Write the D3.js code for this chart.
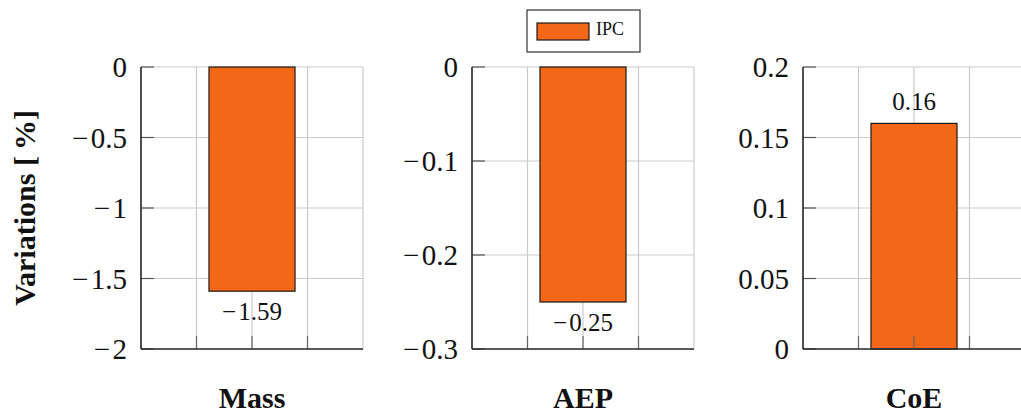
<!DOCTYPE html>
<html>
<head>
<meta charset="utf-8">
<script src="https://cdn.jsdelivr.net/npm/d3@7"></script>
<style>
  html, body { margin: 0; padding: 0; background: #fff; }
  svg { display: block; }
</style>
</head>
<body>
<svg id="chart" width="1021" height="414"></svg>
<script>
// Relative variations of each quantity for the IPC configuration
const categories = ["Mass", "AEP", "CoE"];
const seriesName = "IPC";
const ipcValues = [-1.59, -0.25, 0.16];

// Per-panel y ranges and tick labels
const yDomains = [[-2, 0], [-0.3, 0], [0, 0.2]];
const yTicks = [
  [-2, -1.5, -1, -0.5, 0],
  [-0.3, -0.2, -0.1, 0],
  [0, 0.05, 0.1, 0.15, 0.2]
];

const yTitle = "Variations [\u2009%]";

const barColor = "#f46717";
const gridColor = "#cbcbcb";
const axisColor = "#2a2a2a";

const svg = d3.select("#chart");

const panelLeft0 = 141, panelStep = 331, panelW = 222;
const panelTop = 67, panelH = 282;
const tickLen = 13;
const barWidthUnits = 0.775; // bar width in x-units (x spans -1..1)

const tickFmt = d3.format("~g");
const valFmt = d3.format(".2f");

// serif text styling applied on each text element
function serifText(sel, size, bold) {
  sel.style("font-family", "\"Liberation Serif\"")
    .style("font-size", size + "px")
    .style("font-weight", bold ? "bold" : "normal")
    .attr("fill", "#111");
}

// writes a number, giving a leading minus sign a little more room
function numberText(sel, str) {
  sel.each(function (d) {
    const s = typeof str === "function" ? str(d) : str;
    const t = d3.select(this);
    if (s.startsWith("\u2212")) {
      t.append("tspan").text("\u2212");
      t.append("tspan").attr("dx", "0.08em").text(s.slice(1));
    } else {
      t.text(s);
    }
  });
}

categories.forEach((cat, i) => {
  const g = svg.append("g")
    .attr("transform", `translate(${panelLeft0 + i * panelStep},${panelTop})`);

  const x = d3.scaleLinear().domain([-1, 1]).range([0, panelW]);
  const y = d3.scaleLinear().domain(yDomains[i]).range([panelH, 0]);
  const xGrid = [-1, -0.5, 0, 0.5, 1];

  // grid
  g.append("g").selectAll("line").data(yTicks[i]).join("line")
    .attr("x1", 0).attr("x2", panelW)
    .attr("y1", d => y(d)).attr("y2", d => y(d))
    .attr("stroke", gridColor).attr("stroke-width", 1.2);
  g.append("g").selectAll("line").data(xGrid).join("line")
    .attr("x1", d => x(d)).attr("x2", d => x(d))
    .attr("y1", 0).attr("y2", panelH)
    .attr("stroke", gridColor).attr("stroke-width", 1.2);

  // bar
  const v = ipcValues[i];
  const half = barWidthUnits / 2;
  g.append("rect")
    .attr("x", x(-half))
    .attr("width", x(half) - x(-half))
    .attr("y", Math.min(y(v), y(0)))
    .attr("height", Math.abs(y(v) - y(0)))
    .attr("fill", barColor)
    .attr("stroke", "#1a1a1a")
    .attr("stroke-width", 1.2);

  // value label
  g.append("text")
    .attr("x", x(0))
    .attr("y", v < 0 ? y(v) + 29 : y(v) - 13)
    .attr("text-anchor", "middle")
    .call(serifText, 25, false)
    .call(numberText, valFmt(v));

  // tick marks (left and bottom, pointing inward)
  g.append("g").selectAll("line").data(yTicks[i]).join("line")
    .attr("x1", 0).attr("x2", tickLen)
    .attr("y1", d => y(d)).attr("y2", d => y(d))
    .attr("stroke", "#555").attr("stroke-width", 1.2);
  g.append("g").selectAll("line").data([-0.5, 0, 0.5]).join("line")
    .attr("x1", d => x(d)).attr("x2", d => x(d))
    .attr("y1", panelH).attr("y2", panelH - tickLen)
    .attr("stroke", "#666").attr("stroke-width", 1.2);

  // axis lines
  g.append("line").attr("x1", 0).attr("x2", 0).attr("y1", 0).attr("y2", panelH)
    .attr("stroke", axisColor).attr("stroke-width", 1.6);
  g.append("line").attr("x1", 0).attr("x2", panelW).attr("y1", panelH).attr("y2", panelH)
    .attr("stroke", axisColor).attr("stroke-width", 1.6);

  // y tick labels
  g.append("g").selectAll("text").data(yTicks[i]).join("text")
    .attr("x", -14)
    .attr("y", d => y(d))
    .attr("dy", "0.35em")
    .attr("text-anchor", "end")
    .call(serifText, 29, false)
    .call(numberText, d => tickFmt(d));

  // category label
  g.append("text")
    .attr("x", x(0))
    .attr("y", 408 - panelTop)
    .attr("text-anchor", "middle")
    .call(serifText, 30, true)
    .text(cat);
});

// y axis title
svg.append("text")
  .attr("transform", `translate(35,${panelTop + panelH / 2}) rotate(-90)`)
  .attr("text-anchor", "middle")
  .call(serifText, 30, true)
  .text(yTitle);

// legend
const lg = svg.append("g").attr("transform", "translate(527,10)");
lg.append("rect").attr("x", 0).attr("y", 0).attr("width", 113).attr("height", 42)
  .attr("fill", "#fff").attr("stroke", "#333").attr("stroke-width", 1.2);
lg.append("rect").attr("x", 10).attr("y", 13).attr("width", 52).attr("height", 17)
  .attr("fill", barColor).attr("stroke", "#1a1a1a").attr("stroke-width", 1.2);
lg.append("text").attr("x", 69).attr("y", 25)
  .call(serifText, 18, false)
  .text(seriesName);
</script>
</body>
</html>
